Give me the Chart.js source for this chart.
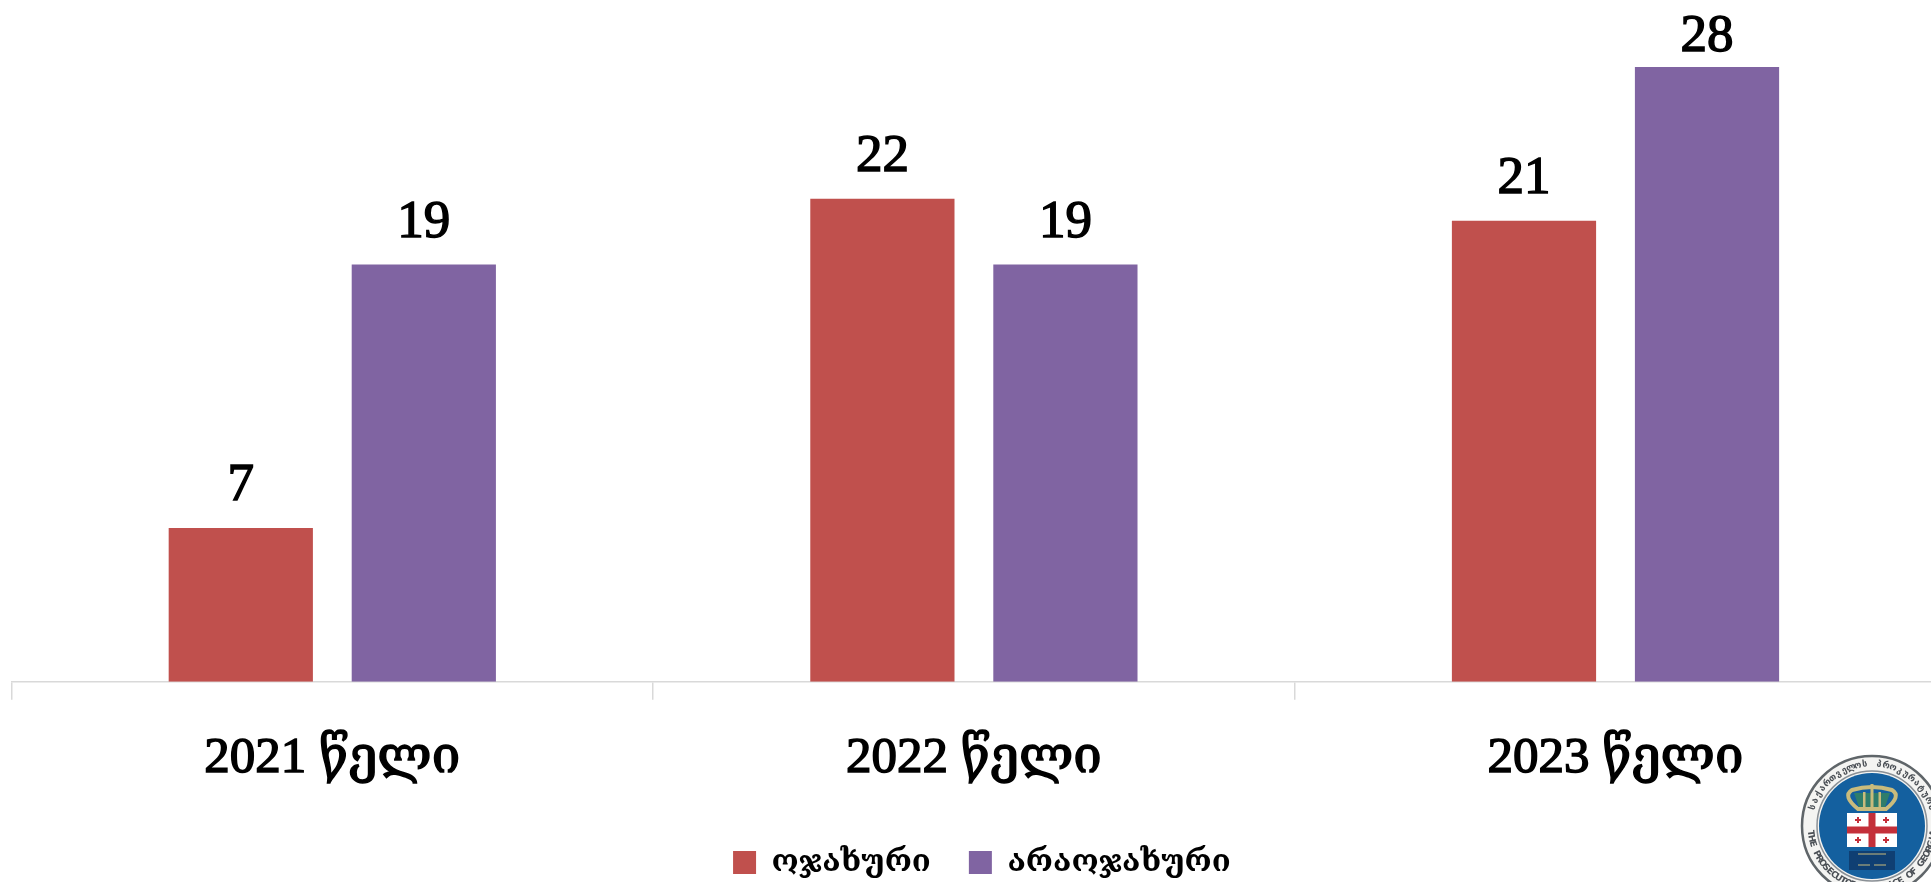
<!DOCTYPE html>
<html><head><meta charset="utf-8">
<style>html,body{margin:0;padding:0;background:#fff;overflow:hidden;width:1931px;height:882px}
#w{position:absolute;left:0;top:0;width:1940px;height:888px}</style>
<script src="https://cdn.jsdelivr.net/npm/chart.js@4"></script></head>
<body><div id="w"><canvas id="c" width="1940" height="888"></canvas></div>
<script>
const categories=["2021 წელი","2022 წელი","2023 წელი"];
const seriesNames=["ოჯახური","არაოჯახური"];
const familyValues=[7,22,21];
const nonFamilyValues=[19,19,28];
const seriesColors=["#C0504D","#8064A2"];
const emblemTop="საქართველოს პროკურატურა";
const emblemBottom="THE PROSECUTOR'S OFFICE OF GEORGIA";
const FONT='"Liberation Serif","DejaVu Serif",serif';
const valueLabels={id:'valueLabels',afterDatasetsDraw(ch){
  const g=ch.ctx;g.save();g.fillStyle='#000';g.strokeStyle='#000';g.lineWidth=1.5;g.font='53px '+FONT;g.textAlign='center';g.textBaseline='alphabetic';
  ch.data.datasets.forEach((d,i)=>{ch.getDatasetMeta(i).data.forEach((el,j)=>{
    const y=Math.max(el.y-28,51),t=String(d.data[j]);g.fillText(t,el.x,y);g.strokeText(t,el.x,y);});});
  g.restore();}};
const shiftLegend={id:'shiftLegend',afterLayout(ch){ch.legend.left+=8;ch.legend.right+=8;}};
function arcText(g,t,cx,cy,r,mid,step,inward){
  const n=t.length;
  [...t].forEach((c,i)=>{const a=mid+(i-(n-1)/2)*step*(inward?-1:1);
    g.save();g.translate(cx+r*Math.cos(a),cy+r*Math.sin(a));g.rotate(a+(inward?-Math.PI/2:Math.PI/2));g.fillText(c,0,0);g.restore();});
}
const emblem={id:'emblem',afterDraw(ch){
  const g=ch.ctx,cx=1872,cy=826,R=70,r=53;g.save();
  g.beginPath();g.arc(cx,cy,R,0,Math.PI*2);g.fillStyle='#f4f4f2';g.fill();g.lineWidth=2.5;g.strokeStyle='#5f6569';g.stroke();
  g.beginPath();g.arc(cx,cy,r+2,0,Math.PI*2);g.strokeStyle='#8a9096';g.lineWidth=1.5;g.stroke();
  g.beginPath();g.arc(cx,cy,r,0,Math.PI*2);g.fillStyle='#14609f';g.fill();
  g.fillStyle='#4a4f55';g.font='bold 9px "DejaVu Sans",sans-serif';g.textAlign='center';g.textBaseline='middle';
  arcText(g,emblemTop,cx,cy,R-8,-Math.PI/2,0.115,false);
  arcText(g,emblemBottom,cx,cy,R-8,Math.PI/2,0.088,true);
  g.fillStyle='#fff';g.fillRect(cx-25,cy-13,50,34);
  g.fillStyle='#c4303a';g.fillRect(cx-3.5,cy-13,7,34);g.fillRect(cx-25,cy+0.5,50,7);
  [[-14,-6],[14,-6],[-14,14],[14,14]].forEach(([dx,dy])=>{g.fillRect(cx+dx-3,cy+dy-1,6,2);g.fillRect(cx+dx-1,cy+dy-3,2,6);});
  g.lineWidth=4;g.strokeStyle='#c9bb7c';g.beginPath();g.moveTo(cx-14,cy-17);g.quadraticCurveTo(cx-30,cy-30,cx-20,cy-36);g.quadraticCurveTo(cx,cy-42,cx+20,cy-36);g.quadraticCurveTo(cx+30,cy-30,cx+14,cy-17);g.closePath();g.stroke();
  g.fillStyle='#2f7d6a';g.beginPath();g.moveTo(cx-13,cy-19);g.lineTo(cx-18,cy-33);g.lineTo(cx+18,cy-33);g.lineTo(cx+13,cy-19);g.closePath();g.fill();
  g.fillStyle='#c9bb7c';g.fillRect(cx-15,cy-18,30,3);g.fillRect(cx-1.5,cy-42,3,24);g.fillRect(cx-9,cy-34,2.5,15);g.fillRect(cx+6.5,cy-34,2.5,15);
  g.fillStyle='#0f3f73';g.fillRect(cx-23,cy+25,46,19);
  g.strokeStyle='#c9bb7c';g.lineWidth=1;g.beginPath();g.moveTo(cx-14,cy+28);g.lineTo(cx+14,cy+28);g.moveTo(cx-14,cy+39);g.lineTo(cx-2,cy+39);g.moveTo(cx+2,cy+39);g.lineTo(cx+14,cy+39);g.stroke();
  g.restore();}};
new Chart(document.getElementById('c'),{type:'bar',
 data:{labels:categories,datasets:[
  {label:seriesNames[0],data:familyValues,backgroundColor:seriesColors[0],categoryPercentage:.5705,barPercentage:.788},
  {label:seriesNames[1],data:nonFamilyValues,backgroundColor:seriesColors[1],categoryPercentage:.5705,barPercentage:.788}]},
 options:{responsive:false,animation:false,
  layout:{padding:{left:11.5,right:3.7,top:23,bottom:0}},
  plugins:{tooltip:{enabled:false},title:{display:false},
   legend:{position:'bottom',labels:{boxWidth:23,boxHeight:23,padding:38,color:'#000',font:{family:FONT,size:31,weight:'bold'}}}},
  scales:{y:{display:false,min:0,max:30,beginAtZero:true},
   x:{afterFit(s){s.height=127.2;},
      grid:{display:true,offset:true,drawOnChartArea:false,drawTicks:true,tickLength:18,color:'#d9d9d9',lineWidth:1.5},
      border:{color:'#d9d9d9',width:1.5},
      ticks:{color:'#000',padding:28,maxRotation:0,textStrokeColor:'#000',textStrokeWidth:1.5,font:{family:FONT,size:51}}}}},
 plugins:[valueLabels,emblem,shiftLegend]});
</script></body></html>
